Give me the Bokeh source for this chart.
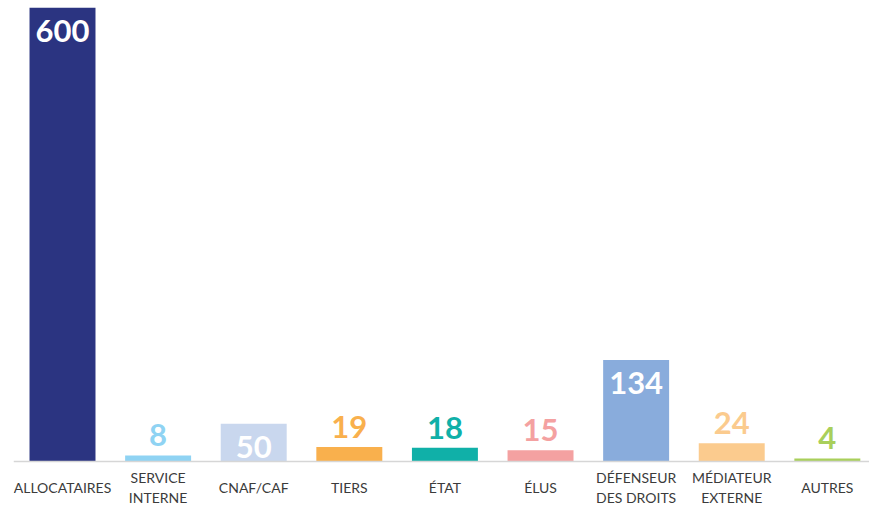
from bokeh.plotting import figure
from bokeh.models import ColumnDataSource, Range1d, Span
from bokeh.core.properties import value
from bokeh.embed import file_html
from bokeh.resources import INLINE

categories = ["ALLOCATAIRES", "SERVICE\nINTERNE", "CNAF/CAF", "TIERS", "ÉTAT",
              "ÉLUS", "DÉFENSEUR\nDES DROITS", "MÉDIATEUR\nEXTERNE", "AUTRES"]
values = [600, 8, 50, 19, 18, 15, 134, 24, 4]
colors = ["#2B3481", "#8FD3F3", "#C9D7EE", "#F9B04D", "#10B0A8",
          "#F4A1A1", "#89ACDC", "#FBCB8E", "#A9CF5B"]

xs = list(range(len(categories)))
inside = [v >= 40 for v in values]

p = figure(width=869, height=506, output_backend="svg", toolbar_location=None,
           x_range=Range1d(-0.5126, 8.441), y_range=Range1d(-59.5, 600),
           min_border_left=13, min_border_right=0, min_border_top=7, min_border_bottom=0)
p.outline_line_color = None
p.grid.visible = False
p.axis.visible = False
p.background_fill_color = "white"
p.border_fill_color = "white"

bars = ColumnDataSource(dict(x=xs, top=values, color=colors))
p.vbar(x="x", top="top", width=0.69, bottom=0, fill_color="color", line_color=None, source=bars)

p.add_layout(Span(location=0, dimension="width", line_color="#d6d6d6", line_width=1.5))

in_src = ColumnDataSource(dict(
    x=[x for x, i in zip(xs, inside) if i],
    y=[v for v, i in zip(values, inside) if i],
    t=[str(v) for v, i in zip(values, inside) if i]))
out_src = ColumnDataSource(dict(
    x=[x for x, i in zip(xs, inside) if not i],
    y=[v for v, i in zip(values, inside) if not i],
    t=[str(v) for v, i in zip(values, inside) if not i],
    c=[c for c, i in zip(colors, inside) if not i]))

p.text(x="x", y="y", text="t", source=in_src, text_color="white",
       text_font=value("Lato"), text_font_style="bold", text_font_size="31px",
       text_align="center", text_baseline="middle", y_offset=23)
p.text(x="x", y="y", text="t", source=out_src, text_color="c",
       text_font=value("Lato"), text_font_style="bold", text_font_size="31px",
       text_align="center", text_baseline="middle", y_offset=-20)

lab_src = ColumnDataSource(dict(x=xs, y=[0] * len(xs), t=categories))
p.text(x="x", y="y", text="t", source=lab_src, text_color="#3b3b3b",
       text_font=value("Lato"), text_font_size="14px", text_line_height=1.15,
       text_align="center", text_baseline="middle", y_offset=26)

open("out.html", "w").write(file_html(p, INLINE))
